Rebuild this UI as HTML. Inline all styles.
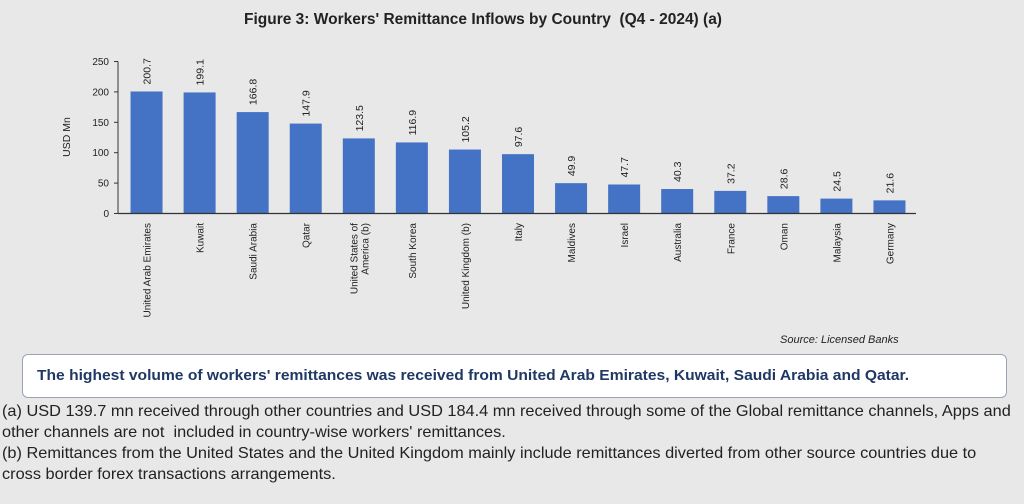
<!DOCTYPE html>
<html><head><meta charset="utf-8">
<style>
body{margin:0;background:#e8e8e8;width:1024px;height:504px;overflow:hidden;font-family:"Liberation Sans",sans-serif;}
#wrap{position:relative;width:1024px;height:504px;}
.title{position:absolute;left:0;width:966px;top:11px;text-align:center;font-weight:bold;font-size:15.5px;color:#222;}
.box{position:absolute;left:22px;top:354px;width:985px;height:44px;background:#fff;border:1px solid #9aa3b5;border-radius:6px;box-sizing:border-box;}
.box span{position:absolute;left:14px;top:12px;font-weight:bold;font-size:15px;color:#1f3864;transform:scaleX(1.04);transform-origin:left;white-space:nowrap;}
.note{position:absolute;left:2px;font-size:16px;color:#222;transform:scaleX(1.02);transform-origin:left;white-space:nowrap;}
.src{position:absolute;left:780px;top:334px;font-size:11px;font-style:italic;color:#222;}
</style></head><body>
<div id="wrap">
<div class="title">Figure 3: Workers' Remittance Inflows by Country &nbsp;(Q4 - 2024) (a)</div>
<svg id="chart" width="1024" height="340" style="position:absolute;left:0;top:0"></svg>
<div class="src">Source: Licensed Banks</div>
<div class="box"><span>The highest volume of workers' remittances was received from United Arab Emirates, Kuwait, Saudi Arabia and Qatar.</span></div>
<div class="note" style="top:403px">(a) USD 139.7 mn received through other countries and USD 184.4 mn received through some of the Global remittance channels, Apps and</div>
<div class="note" style="top:424px">other channels are not &nbsp;included in country-wise workers' remittances.</div>
<div class="note" style="top:445px">(b) Remittances from the United States and the United Kingdom mainly include remittances diverted from other source countries due to</div>
<div class="note" style="top:466px">cross border forex transactions arrangements.</div>
</div>
<script>
const categories=[["United Arab Emirates"],["Kuwait"],["Saudi Arabia"],["Qatar"],["United States of","America (b)"],["South Korea"],["United Kingdom (b)"],["Italy"],["Maldives"],["Israel"],["Australia"],["France"],["Oman"],["Malaysia"],["Germany"]];
const values=[200.7,199.1,166.8,147.9,123.5,116.9,105.2,97.6,49.9,47.7,40.3,37.2,28.6,24.5,21.6];
const yTicks=[0,50,100,150,200,250];
const NS="http://www.w3.org/2000/svg";
const svg=document.getElementById('chart');
const x0=120,x1=916,y0=213.5,yMax=250,yTop=61.5;
const band=(x1-x0)/categories.length;
function y(v){return y0-(v/yMax)*(y0-yTop);}
function xc(i){return x0+band*(i+0.5);}
function el(t,a){const e=document.createElementNS(NS,t);for(const k in a)e.setAttribute(k,a[k]);svg.appendChild(e);return e;}
const ya=el('line',{x1:x0-2,y1:yTop,x2:x0-2,y2:y0,stroke:'#333','stroke-width':1});


yTicks.forEach(t=>{
 const tk=el('line',{x1:x0-6,x2:x0-2,y1:y(t),y2:y(t),stroke:'#333'});
 
 
 const tx=el('text',{x:x0-11,y:y(t)+3.5,'text-anchor':'end','font-size':10,fill:'#222'});
 tx.textContent=t;
 
 
});
const yt=el('text',{transform:'translate(70,137) rotate(-90)','text-anchor':'middle','font-size':10.5,fill:'#222'});
yt.textContent='USD Mn';


values.forEach((v,i)=>{
 const bw=32,cx=xc(i);
 const r=el('rect',{x:cx-bw/2,y:y(v),width:bw,height:y0-y(v),fill:'#4472c4'});
 
 
 const lt=el('text',{transform:`translate(${cx+4},${y(v)-7}) rotate(-90)`,'font-size':10.5,fill:'#222'});
 lt.textContent=v.toFixed(1);
 
 
 const lines=categories[i];
 lines.forEach((ln,j)=>{
  const off=(j-(lines.length-1)/2)*11;
  const ct=el('text',{transform:`translate(${cx+4+off},223) rotate(-90)`,'text-anchor':'end','font-size':10,fill:'#222'});
  ct.textContent=ln;
  
  
 });
});
const xa=el('line',{x1:x0-2,y1:y0,x2:x1,y2:y0,stroke:'#333','stroke-width':1.3});


</script>
</body></html>
